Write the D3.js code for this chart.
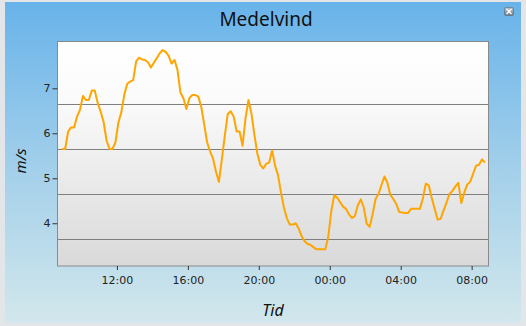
<!DOCTYPE html>
<html><head><meta charset="utf-8">
<script src="https://cdn.jsdelivr.net/npm/d3@7"></script>
<style>body{margin:0;background:#e2e6e9;}svg{display:block;}</style>
</head><body><svg id="c" width="526" height="326"></svg>
<script>
const title = "Medelvind";
const xTitle = "Tid";
const yTitle = "m/s";
const startTime = "2024-01-01T08:55";   // first sample
const stepMinutes = 10;                  // sampling interval
const xDomain = ["2024-01-01T08:39", "2024-01-02T08:57"];
const xTicks = ["2024-01-01T12:00","2024-01-01T16:00","2024-01-01T20:00","2024-01-02T00:00","2024-01-02T04:00","2024-01-02T08:00"];
const yDomain = [3.05, 8.04];
const yTicks = [4, 5, 6, 7];
const gridValues = [3.65, 4.65, 5.65, 6.65];
const windValues = [
 5.65,5.65,6.04,6.13,6.13,6.37,6.52,6.83,6.74,6.74,
 6.95,6.95,6.67,6.48,6.25,5.84,5.65,5.65,5.8,6.24,
 6.47,6.86,7.1,7.15,7.18,7.6,7.68,7.64,7.63,7.58,
 7.46,7.57,7.67,7.78,7.85,7.81,7.72,7.55,7.63,7.4,
 6.9,6.78,6.54,6.78,6.85,6.85,6.82,6.6,6.21,5.8,
 5.6,5.44,5.15,4.92,5.42,5.95,6.43,6.49,6.37,6.04,
 6.04,5.72,6.33,6.74,6.44,5.97,5.55,5.3,5.22,5.32,
 5.35,5.62,5.28,5.07,4.68,4.35,4.11,3.97,3.97,4.0,
 3.88,3.71,3.6,3.54,3.52,3.47,3.42,3.42,3.42,3.42,
 3.7,4.26,4.62,4.57,4.47,4.37,4.32,4.2,4.12,4.16,
 4.4,4.53,4.35,3.99,3.92,4.2,4.54,4.65,4.85,5.04,
 4.9,4.63,4.54,4.43,4.25,4.24,4.23,4.23,4.32,4.32,
 4.32,4.32,4.55,4.88,4.84,4.56,4.32,4.08,4.1,4.28,
 4.46,4.65,4.72,4.82,4.9,4.45,4.68,4.86,4.92,5.1,
 5.28,5.3,5.42,5.35
];

const svg = d3.select("#c");
const defs = svg.append("defs");
const bg = defs.append("linearGradient").attr("id","bg").attr("x1",0).attr("y1",0).attr("x2",0).attr("y2",1);
bg.append("stop").attr("offset","0%").attr("stop-color","#68b3ea");
bg.append("stop").attr("offset","55%").attr("stop-color","#a6d1ea");
bg.append("stop").attr("offset","100%").attr("stop-color","#d2e7ec");
const pg = defs.append("linearGradient").attr("id","pg").attr("x1",0).attr("y1",0).attr("x2",0).attr("y2",1);
pg.append("stop").attr("offset","0%").attr("stop-color","#ffffff");
pg.append("stop").attr("offset","25%").attr("stop-color","#fbfbfb");
pg.append("stop").attr("offset","100%").attr("stop-color","#d9d9d9");
const ig = defs.append("linearGradient").attr("id","ig").attr("x1",0).attr("y1",0).attr("x2",0).attr("y2",1);
ig.append("stop").attr("offset","0%").attr("stop-color","#b8c4cc");
ig.append("stop").attr("offset","100%").attr("stop-color","#6e7c86");

svg.append("rect").attr("x",0).attr("y",0).attr("width",526).attr("height",326).attr("fill","#e2e6e9");
svg.append("rect").attr("x",5).attr("y",2).attr("width",516).attr("height",321).attr("fill","url(#bg)");

// close icon
const ic = svg.append("g").attr("transform","translate(504,7)");
ic.append("rect").attr("x",0.5).attr("y",0.5).attr("width",9).attr("height",8).attr("rx",1.5).attr("fill","url(#ig)").attr("stroke","#5d6a73").attr("stroke-width",0.6);
ic.append("path").attr("d","M2.5,2 L7.5,7 M7.5,2 L2.5,7").attr("stroke","#fff").attr("stroke-width",1.3);

const L = 57.5, R = 488.5, T = 41.5, B = 266;
const parse = d3.isoParse;
const x = d3.scaleTime().domain(xDomain.map(s=>new Date(s))).range([L, R]);
const y = d3.scaleLinear().domain(yDomain).range([B, T]);

const t0 = new Date(startTime);
const data = windValues.map((v,i)=>({t:new Date(t0.getTime()+i*stepMinutes*60000), v}));

svg.append("rect").attr("x",L).attr("y",T).attr("width",R-L).attr("height",B-T).attr("fill","url(#pg)");

svg.append("g").selectAll("line").data(gridValues).join("line")
  .attr("x1",L).attr("x2",R)
  .attr("y1",d=>Math.round(y(d))+0.5).attr("y2",d=>Math.round(y(d))+0.5)
  .attr("stroke","#7f7f7f").attr("stroke-width",1);

svg.append("path").datum(data)
  .attr("fill","none").attr("stroke","#ffa500").attr("stroke-width",2)
  .attr("stroke-linejoin","round")
  .attr("d", d3.line().x(d=>x(d.t)).y(d=>y(d.v)));

svg.append("rect").attr("x",L).attr("y",T).attr("width",R-L).attr("height",B-T)
  .attr("fill","none").attr("stroke","#8a8a8a").attr("stroke-width",1);

const xa = svg.append("g").attr("transform",`translate(0,${B})`)
  .call(d3.axisBottom(x).tickValues(xTicks.map(s=>new Date(s))).tickFormat(d3.timeFormat("%H:%M")).tickSize(4).tickPadding(6));
xa.select(".domain").remove();
xa.selectAll("line").attr("stroke","#333");
xa.selectAll("text").attr("font-family","DejaVu Sans, Verdana, sans-serif").attr("font-size",11).attr("fill","#222");

const ya = svg.append("g").attr("transform",`translate(${L},0)`)
  .call(d3.axisLeft(y).tickValues(yTicks).tickFormat(d3.format("d")).tickSize(5).tickPadding(2));
ya.select(".domain").remove();
ya.selectAll("line").attr("stroke","#333");
ya.selectAll("text").attr("font-family","DejaVu Sans, Verdana, sans-serif").attr("font-size",11).attr("fill","#222");

svg.append("text").attr("x",266).attr("y",26).attr("text-anchor","middle")
  .attr("font-family","Noto Sans, sans-serif").attr("font-size",19).attr("fill","#111").text(title);
svg.append("text").attr("x",273).attr("y",316).attr("text-anchor","middle")
  .attr("font-family","Noto Sans, sans-serif").attr("font-style","italic").attr("font-size",16).attr("fill","#111").text(xTitle);
svg.append("text").attr("transform","translate(26,161) rotate(-90)").attr("text-anchor","middle")
  .attr("font-family","Noto Sans, sans-serif").attr("font-style","italic").attr("font-size",15).attr("fill","#111").text(yTitle);
</script></body></html>
